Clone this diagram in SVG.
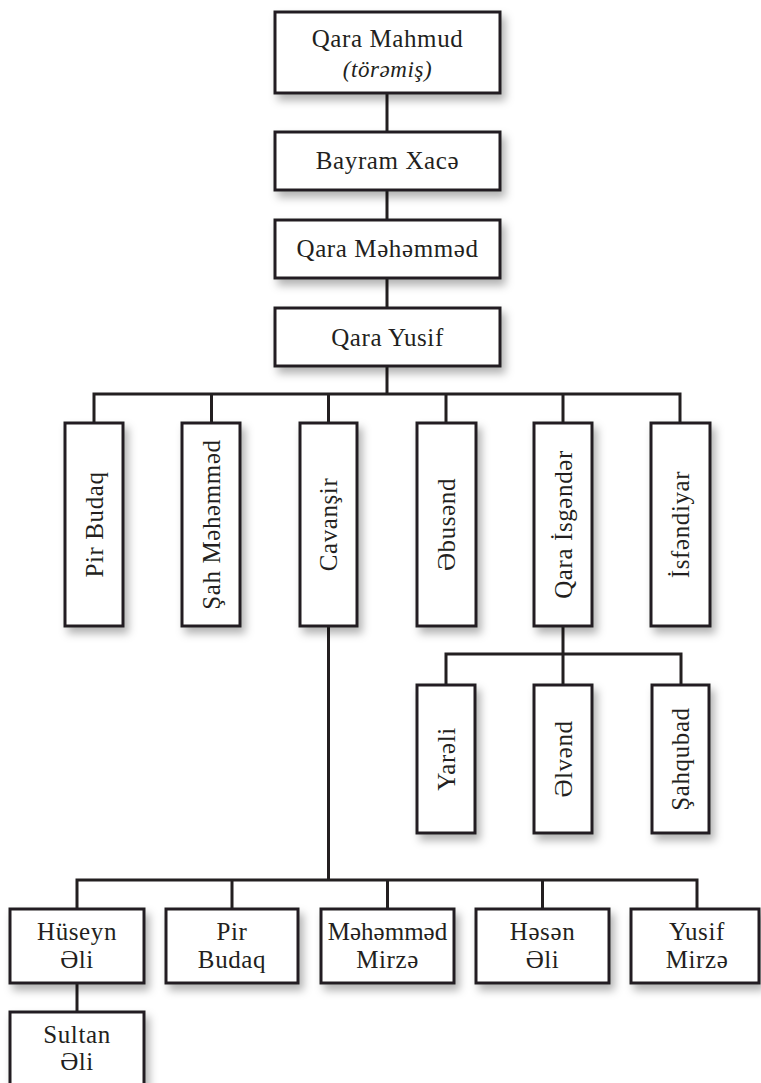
<svg xmlns="http://www.w3.org/2000/svg" width="761" height="1083" viewBox="0 0 761 1083">
  <defs>
    <filter id="shadow" x="-20%" y="-20%" width="150%" height="150%">
      <feDropShadow dx="4" dy="6" stdDeviation="4" flood-color="#000" flood-opacity="0.3"/>
    </filter>
  </defs>
  <style>
    .box { fill: #fff; stroke: #231f20; stroke-width: 3; filter: url(#shadow); }
    .link { fill: none; stroke: #231f20; stroke-width: 3; }
    text { font-family: "Liberation Serif", "Times New Roman", serif; font-size: 25px; fill: #231f20; text-anchor: middle; letter-spacing: 0.6px; }
    .it { font-style: italic; font-size: 23px; }
  </style>
  <rect width="761" height="1083" fill="#fff"/>

  <!-- connectors -->
  <g id="connectors" class="link">
    <path d="M387 93V132M387 190V220M387 278V308M387 366V394"/>
    <path d="M94 423V394H680V423M211.5 394V423M328.5 394V423M446 394V423M563 394V423"/>
    <path d="M563 626V685M446 685V654H681V685"/>
    <path d="M328.5 626V880M77 909V880H697V909M232 880V909M387.5 880V909M542.5 880V909"/>
    <path d="M77 983V1012"/>
  </g>

  <!-- ancestral line -->
  <g id="qara-mahmud">
    <rect class="box" x="275" y="12" width="225" height="81"/>
    <text x="387.5" y="47">Qara Mahmud</text>
    <text class="it" x="387.5" y="77">(törəmiş)</text>
  </g>
  <g id="bayram-xace">
    <rect class="box" x="275" y="132" width="225" height="58"/>
    <text x="387.5" y="169">Bayram Xacə</text>
  </g>
  <g id="qara-mehemmed">
    <rect class="box" x="275" y="220" width="225" height="58"/>
    <text x="387.5" y="257">Qara Məhəmməd</text>
  </g>
  <g id="qara-yusif">
    <rect class="box" x="275" y="308" width="225" height="58"/>
    <text x="387.5" y="346">Qara Yusif</text>
  </g>

  <!-- sons of Qara Yusif -->
  <g id="pir-budaq">
    <rect class="box" x="65" y="423" width="58" height="203"/>
    <text transform="translate(102.5 524.5) rotate(-90)">Pir Budaq</text>
  </g>
  <g id="sah-mehemmed">
    <rect class="box" x="182" y="423" width="58" height="203"/>
    <text transform="translate(220 524.5) rotate(-90)">Şah Məhəmməd</text>
  </g>
  <g id="cavansir">
    <rect class="box" x="300" y="423" width="57" height="203"/>
    <text transform="translate(337 524.5) rotate(-90)">Cavanşir</text>
  </g>
  <g id="ebusend">
    <rect class="box" x="417" y="423" width="59" height="203"/>
    <text transform="translate(455 524.5) rotate(-90)">Əbusənd</text>
  </g>
  <g id="qara-isgender">
    <rect class="box" x="534" y="423" width="58" height="203"/>
    <text transform="translate(571.5 524.5) rotate(-90)">Qara İsgəndər</text>
  </g>
  <g id="isfendiyar">
    <rect class="box" x="651" y="423" width="59" height="203"/>
    <text transform="translate(689 524.5) rotate(-90)">İsfəndiyar</text>
  </g>

  <!-- sons of Qara İsgəndər -->
  <g id="yareli">
    <rect class="box" x="417" y="685" width="58" height="148"/>
    <text transform="translate(454.5 759) rotate(-90)">Yarəli</text>
  </g>
  <g id="elvend">
    <rect class="box" x="534" y="685" width="58" height="148"/>
    <text transform="translate(571.5 759) rotate(-90)">Əlvənd</text>
  </g>
  <g id="sahqubad">
    <rect class="box" x="652" y="685" width="57" height="148"/>
    <text transform="translate(689 759) rotate(-90)">Şahqubad</text>
  </g>

  <!-- sons of Cavanşir -->
  <g id="huseyn-eli">
    <rect class="box" x="10" y="909" width="134" height="74"/>
    <text x="77" y="940">Hüseyn</text>
    <text x="77" y="968">Əli</text>
  </g>
  <g id="pir-budaq-2">
    <rect class="box" x="166" y="909" width="132" height="74"/>
    <text x="232" y="940">Pir</text>
    <text x="232" y="968">Budaq</text>
  </g>
  <g id="mehemmed-mirze">
    <rect class="box" x="321" y="909" width="133" height="74"/>
    <text x="387.5" y="940" style="letter-spacing:0px">Məhəmməd</text>
    <text x="387.5" y="968">Mirzə</text>
  </g>
  <g id="hesen-eli">
    <rect class="box" x="476" y="909" width="133" height="74"/>
    <text x="542.5" y="940">Həsən</text>
    <text x="542.5" y="968">Əli</text>
  </g>
  <g id="yusif-mirze">
    <rect class="box" x="631" y="909" width="128" height="74"/>
    <text x="697" y="940">Yusif</text>
    <text x="697" y="968">Mirzə</text>
  </g>

  <!-- son of Hüseyn Əli -->
  <g id="sultan-eli">
    <rect class="box" x="10" y="1012" width="134" height="80"/>
    <text x="77" y="1043">Sultan</text>
    <text x="77" y="1070">Əli</text>
  </g>
</svg>
